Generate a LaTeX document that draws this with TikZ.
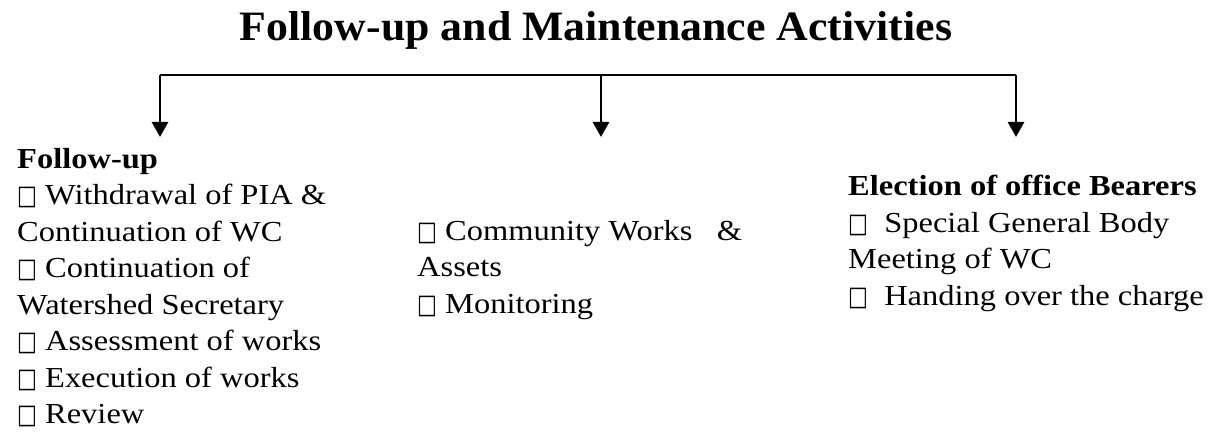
\documentclass[tikz,border=0pt]{standalone}
\usepackage{fontspec}
\usepackage{graphicx}
\setmainfont{Liberation Serif}
\newfontfamily\bodyfont[FakeStretch=1.12]{Liberation Serif}
\newfontfamily\symfont{DejaVu Sans}
\usetikzlibrary{arrows.meta}
\newcommand\bx{\scalebox{1.05}[1.35]{\fontsize{20}{20}\symfont □}}
\tikzset{
  col/.style={anchor=north west, inner sep=0pt, align=left,
    font=\bodyfont\fontsize{29}{36.5}\selectfont},
  conn/.style={line width=2.8pt},
  arr/.style={line width=2.8pt, -{Triangle[width=16pt,length=15pt]}}
}
\begin{document}
\begin{tikzpicture}[x=1pt,y=-1pt]
\useasboundingbox (0,0) rectangle (1226,433);
\node[inner sep=0pt, anchor=base] (title) at (596,41)
  {\resizebox{712pt}{29pt}{\bfseries Follow-up and Maintenance Activities}};
\coordinate (h1) at (160,75);
\coordinate (h2) at (601,75);
\coordinate (h3) at (1016,75);
\coordinate (t1) at (160,137);
\coordinate (t2) at (601,137);
\coordinate (t3) at (1016,137);
\node[col] (c1) at (17,148) {\textbf{Follow-up}\\
\bx\ Withdrawal of PIA \&\\
Continuation of WC\\
\bx\ Continuation of\\
Watershed Secretary\\
\bx\ Assessment of works\\
\bx\ Execution of works\\
\bx\ Review};
\node[col] (c2) at (417,220) {\bx\ Community Works \ \ \&\\
Assets\\
\bx\ Monitoring};
\node[col] (c3) at (848,175) {\textbf{Election of office Bearers}\\
\bx\ \ Special General Body\\
Meeting of WC\\
\bx\ \ Handing over the charge};
\draw[conn] (h1) -- (h3);
\draw[arr] (h1) -- (t1);
\draw[arr] (h2) -- (t2);
\draw[arr] (h3) -- (t3);
\end{tikzpicture}
\end{document}
